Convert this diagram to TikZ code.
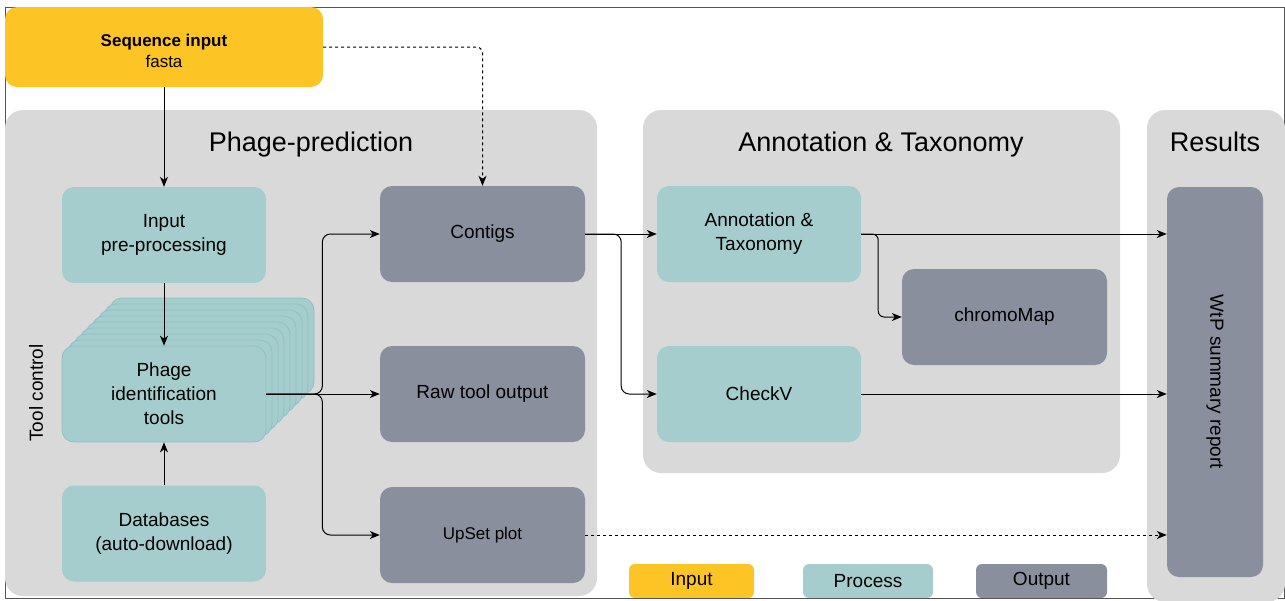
\documentclass[tikz,border=0pt]{standalone}
\usepackage{fontspec}
\setmainfont{Liberation Sans}
\usetikzlibrary{arrows.meta}
\definecolor{inyellow}{HTML}{FDC426}
\definecolor{procteal}{HTML}{A6CDCD}
\definecolor{procedge}{HTML}{8FBFBD}
\definecolor{outgray}{HTML}{8A8F9E}
\definecolor{grpgray}{HTML}{D9D9D9}
\definecolor{framegray}{HTML}{555555}
\tikzset{
  box/.style={rounded corners=12pt, draw=none, align=center, inner sep=2pt,
    font=\fontsize{19}{24}\selectfont},
  procbox/.style={box, fill=procteal, minimum width=204pt, minimum height=96pt},
  outbox/.style={box, fill=outgray, minimum width=205pt, minimum height=96pt},
  grp/.style={fill=grpgray, rounded corners=18pt, draw=none},
  grptitle/.style={font=\fontsize{27}{30}\selectfont, anchor=base},
  stackbox/.style={fill=procteal, draw=procedge, line width=0.7pt, rounded corners=12pt},
  arr/.style={-{Stealth[length=10pt,width=8pt,inset=3pt]}, line width=1pt, black},
  dasharr/.style={arr, dash pattern=on 3pt off 3pt},
  legbox/.style={box, rounded corners=6pt, minimum height=34pt}
}
\begin{document}
\begin{tikzpicture}[x=1pt,y=-1pt]
\useasboundingbox (0,0) rectangle (1285,600);
% frame
\draw[framegray, line width=0.9pt] (5,7) rectangle (1284,598);
% groups
\fill[grp] (5,110) rectangle (597,596);
\fill[grp] (643,110) rectangle (1120,473);
\fill[grp] (1147,110) rectangle (1285,602);
\node[grptitle] (ttlPP) at (311,151.5) {Phage-prediction};
\node[grptitle] (ttlAT) at (881,151.5) {Annotation \& Taxonomy};
\node[grptitle] (ttlRes) at (1215,151.5) {Results};
% input
\node[box, fill=inyellow, minimum width=318pt, minimum height=80pt] (seq) at (164,47) {};
\node[align=center, font=\fontsize{17}{21}\selectfont] (seqtxt) at (164,51)
  {\textbf{Sequence input}\\fasta};
% process boxes
\node[procbox] (pre) at (164,235) {Input\\pre-processing};
\foreach \k in {8,7,...,1}{
  \draw[stackbox] ({62+6*\k},{346-6*\k}) rectangle ({266+6*\k},{442-6*\k});
}
\node[procbox, draw=procedge, line width=0.7pt] (tools) at (164,394) {Phage\\identification\\tools};
\node[procbox] (db) at (164,533.5) {Databases\\(auto-download)};
% outputs
\node[outbox] (contigs) at (482.5,234) {Contigs};
\node[outbox] (raw) at (482.5,394) {Raw tool output};
\node[outbox, font=\fontsize{17}{20}\selectfont] (upset) at (482.5,535) {UpSet plot};
\node[procbox] (annot) at (759,234) {Annotation \&\\Taxonomy};
\node[procbox] (checkv) at (759,394) {CheckV};
\node[outbox] (chromo) at (1004.5,317) {chromoMap};
\node[outbox, minimum width=96pt, minimum height=390pt] (wtp) at (1215,382) {};
\node[rotate=-90, font=\fontsize{19}{22}\selectfont] (wtptext) at (wtp.center) {WtP summary report};
% tool control
\node[rotate=90, font=\fontsize{19}{22}\selectfont] (toolctl) at (36,393) {Tool control};
% legend
\node[legbox, fill=inyellow, minimum width=125pt] (legIn) at (691.5,581) {Input};
\node[legbox, fill=procteal, minimum width=130pt] (legProc) at (868,581) {Process};
\node[legbox, fill=outgray, minimum width=131pt] (legOut) at (1041.5,581) {Output};
\draw[framegray, line width=0.9pt] (600,598) -- (1147,598);
% connectors
\draw[arr] (seq) -- (pre);
\draw[dasharr, rounded corners=6pt] (seq.east) -| (contigs.north);
\draw[arr] (pre) -- (tools);
\draw[arr] (db) -- (tools);
\draw[arr, rounded corners=8pt] (tools.east) -- ++(56,0) |- (contigs.west);
\draw[arr] (tools.east) -- (raw.west);
\draw[arr, rounded corners=8pt] (tools.east) -- ++(56,0) |- (upset.west);
\draw[arr] (contigs.east) -- (annot.west);
\draw[arr, rounded corners=8pt] (contigs.east) -- ++(36,0) |- (checkv.west);
\draw[arr] (annot.east) -- (annot.east -| wtp.west);
\draw[arr, rounded corners=6pt] (annot.east) -- ++(17,0) |- (chromo.west);
\draw[arr] (checkv.east) -- (checkv.east -| wtp.west);
\draw[dasharr] (upset.east) -- (upset.east -| wtp.west);
\end{tikzpicture}
\end{document}
